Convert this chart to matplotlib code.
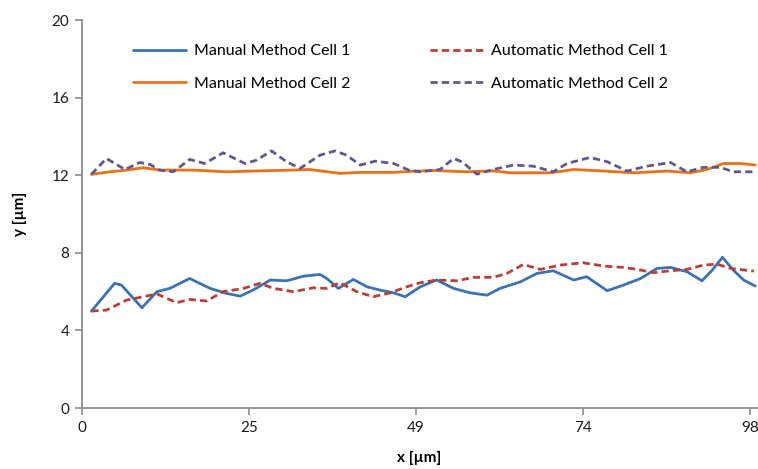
import matplotlib.pyplot as plt

# %% Data
x_m1 = [1.4, 4.8, 5.8, 8.8, 11.0, 12.9, 15.8, 18.8, 21.2, 23.2, 25.1, 27.6, 30.0, 32.5, 34.9,
        35.9, 37.6, 39.8, 41.8, 43.7, 45.7, 47.4, 49.6, 52.0, 54.5, 56.9, 59.4, 61.3, 64.3,
        66.7, 69.1, 72.1, 74.0, 77.0, 79.4, 81.9, 84.3, 86.3, 88.7, 90.9, 92.4, 93.9, 95.5,
        97.0, 98.7]
y_m1 = [5.0, 6.43, 6.34, 5.17, 6.0, 6.17, 6.68, 6.17, 5.91, 5.77, 6.08, 6.6, 6.56, 6.8, 6.89,
        6.68, 6.17, 6.63, 6.25, 6.08, 5.94, 5.74, 6.25, 6.6, 6.17, 5.94, 5.82, 6.17, 6.51,
        6.94, 7.08, 6.6, 6.77, 6.05, 6.34, 6.68, 7.2, 7.25, 7.03, 6.56, 7.11, 7.77, 7.11,
        6.6, 6.29]

x_a1 = [1.4, 3.6, 6.6, 9.0, 11.0, 13.9, 15.8, 18.3, 20.7, 23.7, 26.1, 28.1, 31.0, 33.9, 35.9,
        37.8, 40.3, 42.7, 45.2, 47.6, 49.6, 52.0, 55.0, 57.4, 60.3, 62.3, 64.7, 67.2, 70.1,
        73.5, 76.5, 79.4, 81.4, 83.8, 86.3, 88.7, 91.1, 93.1, 95.1, 98.5]
y_a1 = [5.0, 5.05, 5.57, 5.74, 5.88, 5.43, 5.6, 5.52, 6.0, 6.17, 6.43, 6.17, 6.0, 6.2, 6.17,
        6.46, 6.0, 5.74, 5.94, 6.25, 6.46, 6.6, 6.56, 6.74, 6.74, 6.94, 7.4, 7.15, 7.37,
        7.49, 7.32, 7.25, 7.15, 6.98, 7.08, 7.15, 7.37, 7.42, 7.2, 7.06]

x_m2 = [1.4, 4.1, 6.6, 9.0, 11.4, 16.3, 21.2, 26.1, 31.0, 33.4, 37.8, 40.8, 45.7, 47.9, 51.5,
        56.4, 60.3, 62.8, 68.7, 72.1, 76.0, 80.9, 85.8, 89.2, 91.6, 94.1, 96.5, 98.7]
y_m2 = [12.05, 12.18, 12.27, 12.39, 12.27, 12.27, 12.18, 12.23, 12.27, 12.3, 12.1, 12.15,
        12.15, 12.2, 12.25, 12.18, 12.23, 12.13, 12.13, 12.3, 12.23, 12.13, 12.22, 12.13,
        12.3, 12.61, 12.61, 12.53]

x_a2 = [1.4, 3.6, 6.3, 8.5, 10.0, 11.4, 13.4, 15.8, 18.0, 20.7, 23.9, 25.6, 27.8, 30.0, 32.0,
        34.9, 37.1, 38.8, 40.8, 43.0, 45.7, 47.9, 49.6, 52.5, 54.5, 55.7, 57.9, 60.3, 63.3,
        66.2, 69.1, 71.1, 74.5, 77.0, 79.9, 82.8, 86.3, 88.7, 91.1, 93.6, 95.5, 98.5]
y_a2 = [12.05, 12.87, 12.3, 12.66, 12.56, 12.27, 12.18, 12.82, 12.61, 13.16, 12.61, 12.78,
        13.26, 12.7, 12.36, 13.04, 13.26, 13.04, 12.53, 12.73, 12.61, 12.27, 12.18, 12.3,
        12.87, 12.7, 12.06, 12.3, 12.53, 12.47, 12.18, 12.61, 12.92, 12.7, 12.22, 12.47,
        12.66, 12.18, 12.41, 12.41, 12.18, 12.18]

xtick_pos = [0, 24.5, 49, 73.5, 98]
xtick_labels = ['0', '25', '49', '74', '98']
ytick_pos = [0, 4, 8, 12, 16, 20]

# %% Plot
plt.rcParams['font.family'] = ['Lato', 'DejaVu Sans']

fig = plt.figure(figsize=(7.58, 4.69), dpi=100)
ax = fig.add_axes([0.108, 0.130, 0.891, 0.827])

line_kw = dict(lw=2.0, solid_joinstyle='round', dash_joinstyle='round', solid_capstyle='round')
ax.plot(x_m1, y_m1, color='#3D72B0', label='Manual Method Cell 1', **line_kw)
ax.plot(x_m2, y_m2, color='#E8711A', label='Manual Method Cell 2', **line_kw)
ax.plot(x_a1, y_a1, color='#B8403A', ls=(0, (2.6, 1.5)), label='Automatic Method Cell 1', **line_kw)
ax.plot(x_a2, y_a2, color='#5E5A90', ls=(0, (2.6, 1.5)), label='Automatic Method Cell 2', **line_kw)

ax.set_xlim(0, 99)
ax.set_ylim(0, 20)
ax.set_xticks(xtick_pos)
ax.set_xticklabels(xtick_labels)
ax.set_yticks(ytick_pos)

for s in ['top', 'right']:
    ax.spines[s].set_visible(False)
for s in ['left', 'bottom']:
    ax.spines[s].set_color('#8c8c8c')
    ax.spines[s].set_linewidth(1.3)
ax.tick_params(direction='out', length=5, width=1.2, color='#8c8c8c',
               labelsize=11, labelcolor='#1a1a1a', pad=4)

ax.set_xlabel('x [µm]', fontsize=11, fontweight='bold', labelpad=12)
ax.set_ylabel('y [µm]', fontsize=11, fontweight='bold', labelpad=18)

ax.legend(loc='upper left', bbox_to_anchor=(0.055, 0.975), ncol=2, frameon=False,
          fontsize=11.5, handlelength=3.3, labelspacing=1.15, columnspacing=5.0,
          handletextpad=0.5)

fig.savefig('out.png')
